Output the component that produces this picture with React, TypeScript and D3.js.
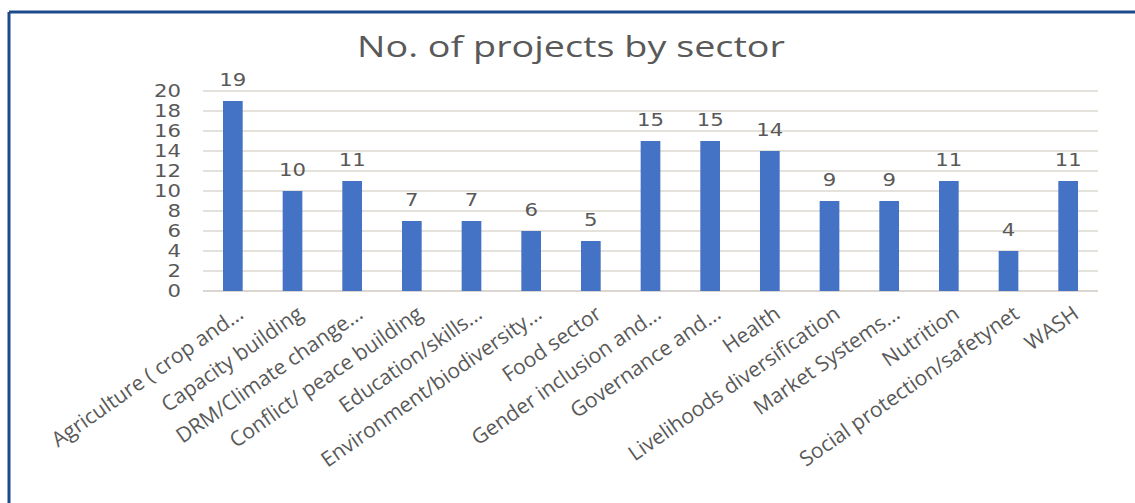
import React from "react";
import * as d3 from "d3";

const categories = [
  "Agriculture ( crop and...",
  "Capacity building",
  "DRM/Climate change...",
  "Conflict/ peace building",
  "Education/skills...",
  "Environment/biodiversity...",
  "Food sector",
  "Gender inclusion and...",
  "Governance and...",
  "Health",
  "Livelihoods diversification",
  "Market Systems...",
  "Nutrition",
  "Social protection/safetynet",
  "WASH",
];
const values = [19, 10, 11, 7, 7, 6, 5, 15, 15, 14, 9, 9, 11, 4, 11];
const yTicks = [0, 2, 4, 6, 8, 10, 12, 14, 16, 18, 20];
const title = "No. of projects by sector";

const W = 1135;
const H = 503;
const left = 203;
const right = 1098;
const top = 91;
const bottom = 291;

export default function App() {
  const x = d3.scaleBand<string>().domain(categories).range([left, right]).paddingInner(0.67).paddingOuter(0.335);
  const y = d3.scaleLinear().domain([0, 20]).range([bottom, top]);
  const font = "'Open Sans', sans-serif";
  const numFont = "'DejaVu Sans', sans-serif";
  const txt = "#595959";
  return (
    <svg width={W} height={H} style={{ position: "absolute", left: 0, top: 0, background: "#fff" }}>
      <rect x={0} y={0} width={W} height={H} fill="#fff" />
      <line x1={9} y1={12} x2={W} y2={12} stroke="#1c4a8a" strokeWidth={3} />
      <line x1={9} y1={12} x2={9} y2={H} stroke="#1c4a8a" strokeWidth={3} />
      <text
        x={571}
        y={57}
        textAnchor="middle"
        fontFamily={font}
        fontSize={30}
        fill={txt}
        textLength={428}
        lengthAdjust="spacingAndGlyphs"
      >
        {title}
      </text>
      {yTicks.map((t) => (
        <g key={t}>
          <line x1={left} x2={right} y1={y(t)} y2={y(t)} stroke={t === 0 ? "#d0c9c0" : "#ddd8d0"} strokeWidth={1.5} />
          <text
            x={181}
            y={y(t)}
            dy="0.36em"
            textAnchor="end"
            fontFamily={numFont}
            fontSize={17}
            fill={txt}
            textLength={String(t).length * 13.5}
            lengthAdjust="spacingAndGlyphs"
          >
            {t}
          </text>
        </g>
      ))}
      {categories.map((c, i) => {
        const bx = x(c)!;
        const bw = x.bandwidth();
        const cx = bx + bw / 2;
        return (
          <g key={c}>
            <rect x={bx} y={y(values[i])} width={bw} height={bottom - y(values[i])} fill="#4472C4" />
            <text
              x={cx}
              y={y(values[i]) - 15}
              textAnchor="middle"
              fontFamily={numFont}
              fontSize={17}
              fill={txt}
              textLength={String(values[i]).length * 13.5}
              lengthAdjust="spacingAndGlyphs"
            >
              {values[i]}
            </text>
            <text
              transform={`translate(${cx + 3},${bottom + 13}) rotate(-35)`}
              textAnchor="end"
              dy="0.75em"
              fontFamily={font}
              fontSize={21}
              fill={txt}
            >
              {c}
            </text>
          </g>
        );
      })}
    </svg>
  );
}
